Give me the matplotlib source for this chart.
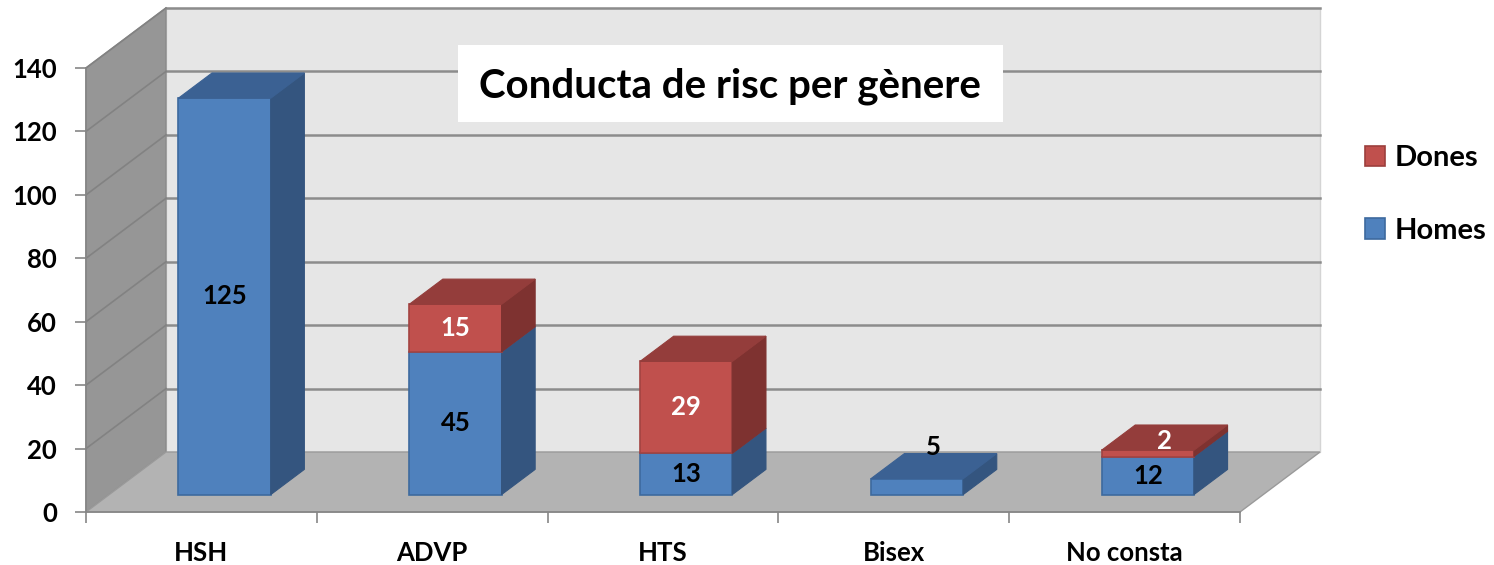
import matplotlib
matplotlib.use("Agg")
import matplotlib.pyplot as plt
from matplotlib.patches import Polygon, Patch, Rectangle

# data
categories = ["HSH", "ADVP", "HTS", "Bisex", "No consta"]
homes = [125, 45, 13, 5, 12]
dones = [0, 15, 29, 0, 2]
yticks = [0, 20, 40, 60, 80, 100, 120, 140]

plt.rcParams['font.family'] = ['Lato', 'DejaVu Sans']
plt.rcParams['font.weight'] = 'bold'

W, H = 1494, 565
fig = plt.figure(figsize=(W / 100, H / 100), dpi=100)
fig.patch.set_facecolor('white')

# axes = front plane of the 3d box
ax = fig.add_axes([86 / W, 53 / H, 1154 / W, 444 / H])
ax.set_xlim(0, len(categories))
ax.set_ylim(0, 140)
ax.patch.set_visible(False)

# depth of the box in data units (80 px right, 60 px up)
sx = ax.transData.transform((1, 0))[0] - ax.transData.transform((0, 0))[0]
sy = ax.transData.transform((0, 1))[1] - ax.transData.transform((0, 0))[1]
DX, DY = 80 / sx, 60 / sy
n = len(categories)
top = yticks[-1]

def poly(pts, fc, ec='none', lw=0, z=1):
    ax.add_patch(Polygon(pts, closed=True, facecolor=fc, edgecolor=ec,
                         linewidth=lw, zorder=z, clip_on=False))

# walls and floor
poly([(DX, DY), (n + DX, DY), (n + DX, top + DY), (DX, top + DY)], '#e6e6e6', '#d4d4d4', 1, 0.5)
poly([(0, 0), (DX, DY), (DX, top + DY), (0, top)], '#969696', '#8a8a8a', 1, 0.6)
for v in yticks[1:]:
    ax.plot([DX, n + DX], [v + DY, v + DY], color='#8c8c8c', lw=1.8, zorder=0.7, clip_on=False)
    ax.plot([0, DX], [v, v + DY], color='#828282', lw=1.2, zorder=0.7, clip_on=False)
poly([(0, 0), (n, 0), (n + DX, DY), (DX, DY)], '#b3b3b3', '#9a9a9a', 1, 0.8)

# bars
bw = 0.4
d0, d1 = 0.29, 0.71
blue = ('#4f81bd', '#34557f', '#3b6193', '#3d6a9e')
red = ('#c0504d', '#7e3230', '#943d3b', '#a34341')

def box(i, y0, y1, col):
    front, side, topc, edge = col
    x0 = i + 0.5 - bw / 2 + d0 * DX
    b0, t0 = y0 + d0 * DY, y1 + d0 * DY
    ddx, ddy = (d1 - d0) * DX, (d1 - d0) * DY
    poly([(x0, b0), (x0 + bw, b0), (x0 + bw, t0), (x0, t0)], front, edge, 1.2, 2)
    poly([(x0 + bw, b0), (x0 + bw + ddx, b0 + ddy), (x0 + bw + ddx, t0 + ddy), (x0 + bw, t0)],
         side, side, 0.8, 2)
    poly([(x0, t0), (x0 + bw, t0), (x0 + bw + ddx, t0 + ddy), (x0 + ddx, t0 + ddy)],
         topc, topc, 0.8, 2)
    return x0 + bw / 2, (b0 + t0) / 2

fs = 18.5
lab = dict(ha='center', va='center', fontsize=fs, fontweight='bold', zorder=5)
for i in range(n):
    cx, cy = box(i, 0, homes[i], blue)
    if dones[i]:
        box(i, homes[i], homes[i] + dones[i], red)
    if i == 3:
        ax.annotate(str(homes[i]), (cx + 0.21 * DX, homes[i] + 0.5 * DY), xytext=(0, 5),
                    textcoords='offset points', ha='center', va='bottom', fontsize=fs,
                    fontweight='bold', zorder=5)
    else:
        ax.text(cx, cy, str(homes[i]), color='black', **lab)
    if dones[i]:
        if i == 4:
            ax.text(cx + 0.21 * DX, homes[i] + dones[i] / 2 + 0.5 * DY, str(dones[i]),
                    color='white', **lab)
        else:
            ax.text(cx, homes[i] + dones[i] / 2 + d0 * DY, str(dones[i]), color='white', **lab)

# axes, ticks
for s in ['top', 'right']:
    ax.spines[s].set_visible(False)
for s in ['left', 'bottom']:
    ax.spines[s].set_color('#868686')
    ax.spines[s].set_linewidth(1.2)
    ax.spines[s].set_zorder(3)
ax.set_yticks(yticks)
ax.tick_params(axis='y', length=8, width=1.2, color='#868686', pad=13, labelsize=fs)
ax.set_xticks(range(n + 1))
ax.set_xticklabels([])
ax.set_xticks([i + 0.5 for i in range(n)], minor=True)
ax.set_xticklabels(categories, minor=True, fontsize=fs, fontweight='bold')
ax.tick_params(axis='x', which='major', length=8, width=1.2, color='#868686')
ax.tick_params(axis='x', which='minor', length=0, pad=21)
for t in ax.get_yticklabels():
    t.set_fontweight('bold')

# title box
fig.patches.append(Rectangle((458 / W, 1 - 122 / H), 545 / W, 77 / H, transform=fig.transFigure,
                             facecolor='white', edgecolor='none', zorder=4))
fig.text(730 / W, 1 - 86 / H, "Conducta de risc per gènere", ha='center', va='center',
         fontsize=29, fontweight='bold', zorder=5)

# legend
handles = [Patch(facecolor=red[0], edgecolor='#9c3f3d', lw=1.2),
           Patch(facecolor=blue[0], edgecolor='#3d6a9e', lw=1.2)]
leg = fig.legend(handles, ['Dones', 'Homes'], loc='upper left',
                 bbox_to_anchor=(1365 / W, 1 - 145 / H), frameon=False, fontsize=21,
                 handlelength=0.7, handleheight=0.7, handletextpad=0.3,
                 labelspacing=1.6, borderpad=0, borderaxespad=0)
for t in leg.get_texts():
    t.set_fontweight('bold')

fig.savefig('out.png', dpi=100, facecolor='white')
